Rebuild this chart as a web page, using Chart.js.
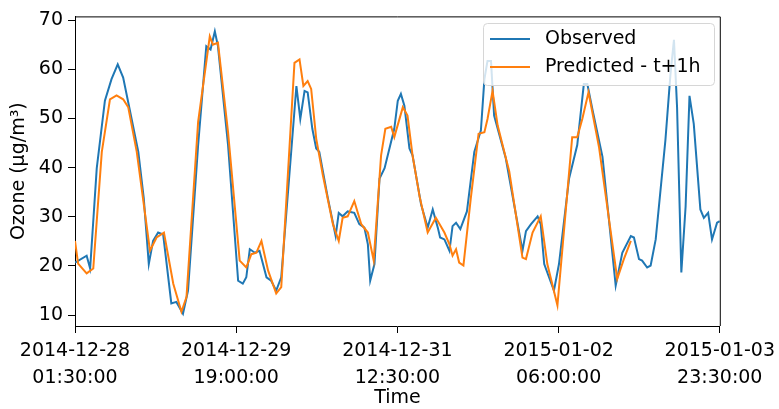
<!DOCTYPE html>
<html>
<head>
<meta charset="utf-8">
<script src="https://cdn.jsdelivr.net/npm/chart.js@4.4.1/dist/chart.umd.min.js"></script>
<style>
  html, body { margin: 0; padding: 0; background: #fff; }
  #ozoneChart { display: block; }
</style>
</head>
<body>
<canvas id="ozoneChart" width="779" height="409"></canvas>
<script>
// hours since 2014-12-28 01:30:00
const obsHours = [0, 3.0, 3.9, 5.6, 7.7, 9.4, 11.0, 12.4, 13.7, 16.3, 17.7, 19.0, 20.1, 21.4, 22.7, 24.8, 26.1, 27.8, 29.1,
  31.7, 33.8, 34.9, 36.0, 36.8, 39.4, 42.0, 43.2, 44.1, 45.0, 46.3, 47.5, 49.3, 50.5, 51.8, 53.1,
  57.0, 58.0, 59.1, 59.9, 61.1, 62.1, 62.9, 65.1, 67.1, 67.9, 68.9, 70.2, 71.9, 73.2, 74.5, 75.4, 76.0, 77.1, 78.4, 79.7,
  82.2, 83.1, 83.9, 84.8, 86.1, 86.9, 89.1, 90.8, 92.1, 93.4, 94.0, 95.1, 96.4, 97.2, 98.1, 99.2, 100.9, 102.8, 104.5,
  105.4, 106.2, 107.1, 107.9, 110.9, 115.2, 116.1, 117.4, 119.1, 119.9, 120.8, 123.3, 124.6, 127.2, 129.3, 131.0, 131.9,
  133.2, 135.8, 139.2, 140.9, 143.1, 143.9, 145.2, 146.0, 147.3, 148.2, 149.5, 152.0, 153.3, 154.2, 155.0, 156.1, 157.2,
  158.2, 159.3, 161.0, 161.9, 163.0, 164.0, 165.3, 166.0];
const obsValues = [20.7, 22.1, 19.5, 39.9, 53.6, 58.0, 61.0, 58.3, 53.3, 43.2, 33.8, 20.4, 25.1, 26.8, 26.4, 12.4, 12.7, 10.3, 15.0,
  44.6, 64.7, 64.0, 67.7, 64.7, 44.6, 17.0, 16.4, 17.7, 23.4, 22.7, 23.1, 17.7, 17.0, 15.0, 17.7,
  56.6, 49.9, 55.6, 55.3, 47.9, 43.9, 43.2, 33.8, 26.1, 30.8, 30.1, 31.1, 30.8, 28.5, 27.8, 24.4, 17.0, 20.4, 37.8, 39.9,
  47.9, 53.6, 55.0, 52.6, 43.9, 42.5, 32.5, 27.8, 31.5, 27.8, 25.8, 25.4, 23.1, 28.1, 28.8, 27.5, 31.1, 43.2, 47.6,
  58.0, 61.7, 61.7, 50.6, 41.9, 23.1, 27.1, 28.5, 30.1, 28.5, 20.4, 15.0, 20.4, 37.8, 44.6, 57.0, 57.0,
  51.9, 42.2, 16.0, 22.7, 26.1, 25.8, 21.4, 21.1, 19.7, 20.1, 25.4, 45.6, 59.0, 66.0, 52.3, 18.7, 32.1,
  54.6, 48.9, 31.5, 29.8, 30.8, 25.4, 28.8, 29.1];

const predHours = [0, 0.8, 3.0, 4.7, 6.9, 9.0, 10.7, 12.4, 13.7, 15.9, 17.6, 19.3, 21.0, 22.9, 25.3, 27.4, 28.7,
  31.7, 34.7, 35.5, 36.8, 39.4, 42.4, 44.1, 45.4, 46.7, 48.0, 49.7, 51.8, 53.1,
  56.5, 57.8, 58.8, 59.9, 60.8, 62.1, 63.8, 66.4, 67.9, 68.9, 70.2, 71.9, 73.7, 75.4, 76.9, 78.8, 79.9, 81.4,
  82.2, 84.4, 85.6, 86.9, 88.7, 90.8, 92.9, 95.1, 96.4, 97.2, 98.1, 98.9, 100.0, 101.9, 103.9, 105.4, 106.2,
  107.5, 108.8, 111.8, 115.2, 116.1, 117.8, 119.9, 121.6, 124.2, 128.0, 129.3, 130.6, 132.2, 134.9, 139.6, 141.3, 143.1];
const predValues = [25.1, 20.5, 18.5, 19.5, 43.2, 53.9, 54.7, 53.9, 52.3, 43.2, 33.2, 23.1, 25.8, 26.8, 16.4, 10.7, 13.7,
  49.3, 66.7, 65.0, 65.4, 47.2, 21.1, 19.7, 22.4, 22.7, 25.1, 19.1, 14.4, 15.7,
  61.3, 62.0, 56.6, 57.6, 56.0, 45.9, 38.5, 28.5, 25.1, 29.8, 30.1, 33.2, 28.5, 26.8, 21.1, 42.5, 47.9, 48.3,
  46.2, 52.3, 50.6, 42.5, 34.2, 26.8, 29.8, 26.8, 24.4, 22.1, 23.4, 20.7, 20.1, 33.8, 46.9, 47.2, 49.9,
  55.6, 48.6, 39.2, 21.7, 21.4, 26.8, 30.1, 20.4, 12.0, 46.2, 46.2, 49.9, 55.3, 44.2, 17.4, 21.4, 25.1];

const xTickHours = [0, 41.5, 83, 124.5, 166];
const xTickLabels = [
  ["2014-12-28", "01:30:00"],
  ["2014-12-29", "19:00:00"],
  ["2014-12-31", "12:30:00"],
  ["2015-01-02", "06:00:00"],
  ["2015-01-03", "23:30:00"]
];
const yTickValues = [10, 20, 30, 40, 50, 60, 70];
const seriesNames = ["Observed", "Predicted - t+1h"];
const seriesColors = ["#1f77b4", "#ff7f0e"];

Chart.defaults.font.family = "'DejaVu Sans', sans-serif";
Chart.defaults.font.size = 19;
Chart.defaults.color = "#000";

const frameAndLegend = {
  id: "frameAndLegend",
  afterDraw(chart) {
    const { ctx, chartArea } = chart;
    ctx.save();
    // top and right spines
    ctx.strokeStyle = "#000";
    ctx.lineWidth = 1;
    ctx.beginPath();
    ctx.moveTo(chartArea.left, chartArea.top + 0.5);
    ctx.lineTo(chartArea.right + 0.5, chartArea.top + 0.5);
    ctx.lineTo(chartArea.right + 0.5, chartArea.bottom);
    ctx.stroke();

    // legend box like matplotlib's
    const bx = 483, by = 23, bw = 231, bh = 62, r = 4;
    ctx.beginPath();
    ctx.roundRect(bx + 0.5, by + 0.5, bw, bh, r);
    ctx.fillStyle = "rgba(255,255,255,0.8)";
    ctx.fill();
    ctx.strokeStyle = "#d6d6d6";
    ctx.stroke();

    ctx.font = "19px 'DejaVu Sans'";
    ctx.textBaseline = "middle";
    ctx.textAlign = "left";
    seriesNames.forEach((name, i) => {
      const y = 39 + i * 28;
      ctx.strokeStyle = seriesColors[i];
      ctx.lineWidth = 2;
      ctx.beginPath();
      ctx.moveTo(490, y);
      ctx.lineTo(530, y);
      ctx.stroke();
      ctx.fillStyle = "#000";
      ctx.fillText(name, 545, y);
    });
    ctx.restore();
  }
};

new Chart(document.getElementById("ozoneChart"), {
  type: "line",
  plugins: [frameAndLegend],
  data: {
    datasets: [
      {
        label: seriesNames[0],
        data: obsHours.map((h, i) => ({ x: h, y: obsValues[i] })),
        borderColor: seriesColors[0],
        borderWidth: 2,
        pointRadius: 0,
        tension: 0,
        order: 2
      },
      {
        label: seriesNames[1],
        data: predHours.map((h, i) => ({ x: h, y: predValues[i] })),
        borderColor: seriesColors[1],
        borderWidth: 2,
        pointRadius: 0,
        tension: 0,
        order: 1
      }
    ]
  },
  options: {
    responsive: false,
    animation: false,
    devicePixelRatio: 1,
    layout: { padding: { left: 0, right: 57, top: 13, bottom: 0 } },
    plugins: {
      legend: { display: false },
      tooltip: { enabled: false }
    },
    scales: {
      x: {
        type: "linear",
        min: 0,
        max: 166,
        afterBuildTicks: scale => { scale.ticks = xTickHours.map(v => ({ value: v })); },
        afterFit: scale => { scale.height = 83; },
        grid: { drawOnChartArea: false, drawTicks: true, tickLength: 7, tickColor: "#000" },
        border: { color: "#000", width: 1 },
        ticks: {
          maxRotation: 0,
          autoSkip: false,
          padding: 4,
          font: { size: 19, lineHeight: 1.45 },
          callback: value => {
            const i = xTickHours.indexOf(value);
            return i >= 0 ? xTickLabels[i] : "";
          }
        },
        title: { display: true, text: "Time", font: { size: 19 }, padding: { top: 0, bottom: 0 } }
      },
      y: {
        type: "linear",
        min: 7.8,
        max: 70.75,
        afterBuildTicks: scale => { scale.ticks = yTickValues.map(v => ({ value: v })); },
        afterFit: scale => { scale.width = 75; },
        grid: { drawOnChartArea: false, drawTicks: true, tickLength: 7, tickColor: "#000" },
        border: { color: "#000", width: 1 },
        ticks: { padding: 5, font: { size: 19 } },
        title: { display: true, text: "Ozone (µg/m³)", font: { size: 19 }, padding: { top: 8, bottom: 0 } }
      }
    }
  }
});
</script>
</body>
</html>
